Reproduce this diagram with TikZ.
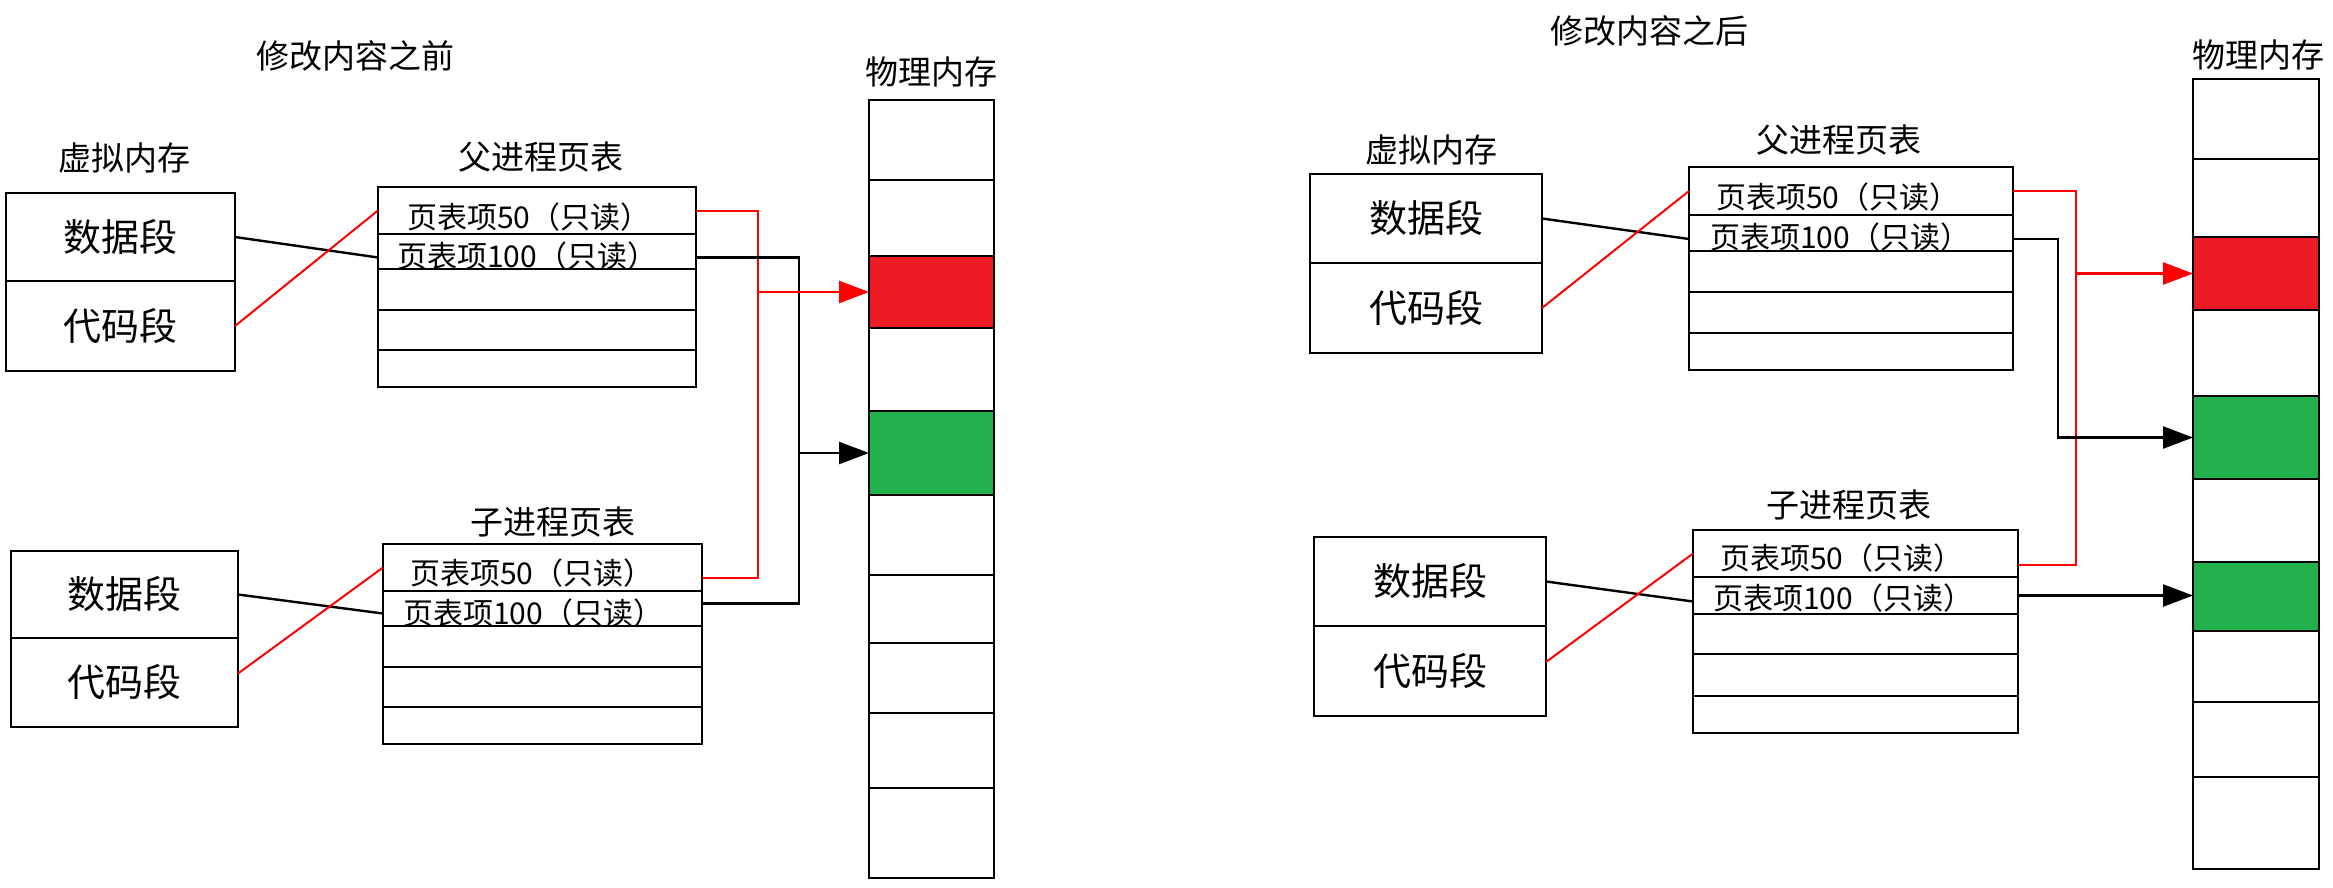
\documentclass[tikz,border=0pt]{standalone}
\usepackage{fontspec}
\newfontfamily\cjk{Noto Sans CJK SC}
\usetikzlibrary{arrows.meta}
\definecolor{memred}{RGB}{237,28,36}
\definecolor{memgreen}{RGB}{34,177,76}
\newcommand\mkcell[7]{\node[cell,#6,minimum width={(#3)-(#2)},minimum height={(#5)-(#4)}] (#1) at (#2,#4) {#7};}
\begin{document}
\begin{tikzpicture}[x=1pt,y=-1pt,
  cell/.style={draw=black,line width=2.4pt,rectangle,anchor=north west,inner sep=0pt,outer sep=0pt},
  big/.style={font=\cjk\fontsize{38}{42}\selectfont},
  lbl/.style={font=\cjk\fontsize{33}{38}\selectfont,inner sep=0pt},
  entry/.style={font=\cjk\fontsize{30}{34}\selectfont,anchor=west,inner sep=0pt},
  blk/.style={line width=2.4pt,draw=black},
  rd/.style={line width=2pt,draw=red},
  tip/.style={-{Triangle[length=30pt,width=22pt]}},
]
\useasboundingbox (0,0) rectangle (2333,888);
\fill[white] (0,0) rectangle (2333,888);

% ---------- LEFT: before ----------
\node[lbl] (ltitle) at (355,56) {修改内容之前};
\node[lbl] (lvlbl) at (124,158) {虚拟内存};
\node[lbl] (lplbl) at (541,157) {父进程页表};
\node[lbl] (lmlbl) at (931,72) {物理内存};
\node[lbl] (lclbl) at (553,522) {子进程页表};

\mkcell{lpd}{6}{235}{193}{281}{big}{数据段}
\mkcell{lpc}{6}{235}{281}{371}{big}{代码段}
\mkcell{lcd}{11}{238}{551}{638}{big}{数据段}
\mkcell{lcc}{11}{238}{638}{727}{big}{代码段}

\foreach \a/\b [count=\i] in {187/234,234/269,269/310,310/350,350/387}
  {\mkcell{lp\i}{378}{696}{\a}{\b}{}{}}
\foreach \a/\b [count=\i] in {544/591,591/626,626/667,667/707,707/744}
  {\mkcell{lc\i}{383}{702}{\a}{\b}{}{}}
\foreach \a/\b/\f [count=\i] in {100/180/white,180/256/white,256/328/memred,328/411/white,411/495/memgreen,495/575/white,575/643/white,643/713/white,713/788/white,788/878/white}
  {\mkcell{pl\i}{869}{994}{\a}{\b}{fill=\f}{}}

\node[entry] (lpe1) at (407,217) {页表项50（只读）};
\node[entry] (lpe2) at (397,256) {页表项100（只读）};
\node[entry] (lce1) at (410,573) {页表项50（只读）};
\node[entry] (lce2) at (403,613) {页表项100（只读）};

\coordinate (lrx) at (758,0);
\coordinate (lbx) at (799,0);

\draw[blk] (lpd.east) -- ([yshift=-6pt]lp2.west);
\draw[rd] (lpc.east) -- (lp1.west);
\draw[blk] (lcd.east) -- ([yshift=-5pt]lc2.west);
\draw[rd] ([yshift=9pt]lcc.east) -- (lc1.west);

\draw[rd] (lp1.east) -- (lp1.east -| lrx) -- ([yshift=-10pt]lc1.east -| lrx) -- ([yshift=-10pt]lc1.east);
\draw[blk] ([yshift=-6pt]lp2.east) -- ([yshift=-6pt]lp2.east -| lbx) -- ([yshift=5pt]lc2.east -| lbx) -- ([yshift=5pt]lc2.east);
\draw[rd,line width=2.6pt,tip] (pl3.west -| lrx) -- (pl3.west);
\draw[blk,tip] (pl5.west -| lbx) -- (pl5.west);

% ---------- RIGHT: after ----------
\node[lbl] (rtitle) at (1649,31) {修改内容之后};
\node[lbl] (rvlbl) at (1431,150) {虚拟内存};
\node[lbl] (rplbl) at (1839,140) {父进程页表};
\node[lbl] (rmlbl) at (2258,55) {物理内存};
\node[lbl] (rclbl) at (1849,505) {子进程页表};

\mkcell{rpd}{1310}{1542}{174}{263}{big}{数据段}
\mkcell{rpc}{1310}{1542}{263}{353}{big}{代码段}
\mkcell{rcd}{1314}{1546}{537}{626}{big}{数据段}
\mkcell{rcc}{1314}{1546}{626}{716}{big}{代码段}

\foreach \a/\b [count=\i] in {167/215,215/251,251/292,292/333,333/370}
  {\mkcell{rp\i}{1689}{2013}{\a}{\b}{}{}}
\foreach \a/\b [count=\i] in {530/577,577/614,614/654,654/696,696/733}
  {\mkcell{rc\i}{1693}{2018}{\a}{\b}{}{}}
\foreach \a/\b/\f [count=\i] in {79/159/white,159/237/white,237/310/memred,310/396/white,396/479/memgreen,479/562/white,562/631/memgreen,631/702/white,702/777/white,777/869/white}
  {\mkcell{pr\i}{2193}{2319}{\a}{\b}{fill=\f}{}}

\node[entry] (rpe1) at (1716,197) {页表项50（只读）};
\node[entry] (rpe2) at (1710,237) {页表项100（只读）};
\node[entry] (rce1) at (1720,558) {页表项50（只读）};
\node[entry] (rce2) at (1713,598) {页表项100（只读）};

\coordinate (rrx) at (2076,0);
\coordinate (rbx) at (2058,0);

\draw[blk] (rpd.east) -- ([yshift=-6pt]rp2.west);
\draw[rd] (rpc.east) -- (rp1.west);
\draw[blk] (rcd.east) -- ([yshift=-6pt]rc2.west);
\draw[rd] ([yshift=9pt]rcc.east) -- (rc1.west);

\draw[rd] (rp1.east) -- (rp1.east -| rrx) -- ([yshift=-11pt]rc1.east -| rrx) -- ([yshift=-11pt]rc1.east);
\draw[rd,line width=2.6pt,tip] (pr3.west -| rrx) -- (pr3.west);
\draw[blk,tip] ([yshift=-6pt]rp2.east) -- ([yshift=-6pt]rp2.east -| rbx) -- (pr5.west -| rbx) -- (pr5.west);
\draw[blk,tip] (rc2.east) -- (rc2.east -| pr7.west);
\end{tikzpicture}
\end{document}
